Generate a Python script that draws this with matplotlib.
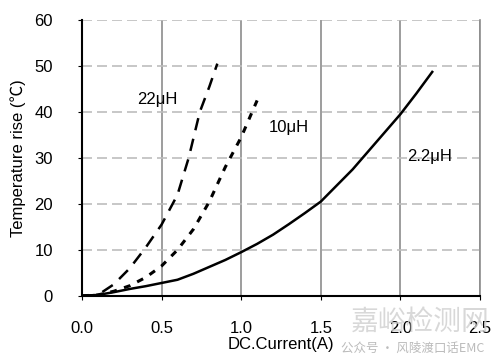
import matplotlib.pyplot as plt

plt.rcParams['font.family'] = ['Liberation Sans', 'Noto Sans CJK SC', 'DejaVu Sans']

# 22uH curve (dashed)
i_22 = [0.0, 0.1, 0.2, 0.3, 0.4, 0.5, 0.6, 0.67, 0.74, 0.8, 0.85]
t_22 = [0.0, 0.2, 2.5, 6.0, 10.5, 15.5, 22.0, 30.0, 40.0, 45.5, 50.5]

# 10uH curve (short dashes)
i_10 = [0.0, 0.1, 0.2, 0.3, 0.4, 0.5, 0.6, 0.7, 0.8, 0.9, 1.0, 1.1]
t_10 = [0.0, 0.2, 1.0, 2.2, 4.0, 6.5, 10.0, 14.5, 20.5, 28.0, 34.5, 42.5]

# 2.2uH curve (solid)
i_2 = [0.0, 0.1, 0.2, 0.3, 0.4, 0.5, 0.6, 0.7, 0.8, 0.9, 1.0, 1.1, 1.2, 1.3,
       1.4, 1.5, 1.6, 1.7, 1.8, 1.9, 2.0, 2.1, 2.2]
t_2 = [0.0, 0.2, 0.8, 1.5, 2.1, 2.8, 3.5, 4.8, 6.3, 7.8, 9.5, 11.3, 13.3, 15.6,
       18.0, 20.5, 24.0, 27.5, 31.5, 35.5, 39.5, 44.0, 48.7]

xticks = [0.0, 0.5, 1.0, 1.5, 2.0, 2.5]
yticks = [0, 10, 20, 30, 40, 50, 60]

fig = plt.figure(figsize=(5, 3.63), dpi=100)
ax = fig.add_axes([0.164, 0.185, 0.796, 0.76])

ax.plot(i_22, t_22, color='black', lw=1.8, dashes=(5, 3.5))
ax.plot(i_10, t_10, color='black', lw=2.2, dashes=(2.2, 2.5))
ax.plot(i_2, t_2, color='black', lw=1.8)

ax.set_xlim(0, 2.5)
ax.set_ylim(0, 60)
ax.set_xticks(xticks)
ax.set_xticklabels([f'{v:.1f}' for v in xticks])
ax.set_yticks(yticks)

# vertical grid solid, horizontal grid dashed
ax.xaxis.grid(True, color='#8c8c8c', lw=1.2, ls='-')
ax.yaxis.grid(True, color='#bdbdbd', lw=1.2, ls=(0, (6, 3)))
ax.set_axisbelow(True)

ax.spines['top'].set_visible(False)
ax.spines['right'].set_color('#8c8c8c')
ax.spines['right'].set_linewidth(1.2)
ax.spines['left'].set_linewidth(1.5)
ax.spines['bottom'].set_linewidth(1.5)
ax.tick_params(labelsize=12, length=3, colors='black')
ax.tick_params(axis='y', pad=18)
ax.tick_params(axis='x', pad=15)

ax.set_xlabel('DC.Current(A)', fontsize=12, labelpad=1)
ax.set_ylabel('Temperature rise (℃)', fontsize=12, labelpad=6)

ax.text(0.345, 42.6, '22μH', fontsize=12, va='center')
ax.text(1.17, 36.7, '10μH', fontsize=12, va='center')
ax.text(2.04, 30.2, '2.2μH', fontsize=12, va='center')

# watermark
fig.text(0.84, 0.113, '嘉峪检测网', fontsize=20, color='#cfcfcf', ha='center',
         va='center', alpha=0.8, family=['Noto Sans CJK SC'])
fig.text(0.825, 0.04, '公众号 · 风陵渡口话EMC', fontsize=9, color='#aaaaaa',
         ha='center', va='center', alpha=0.8,
         family=['Noto Sans CJK SC', 'DejaVu Sans'])

fig.savefig('out.png', dpi=100)
